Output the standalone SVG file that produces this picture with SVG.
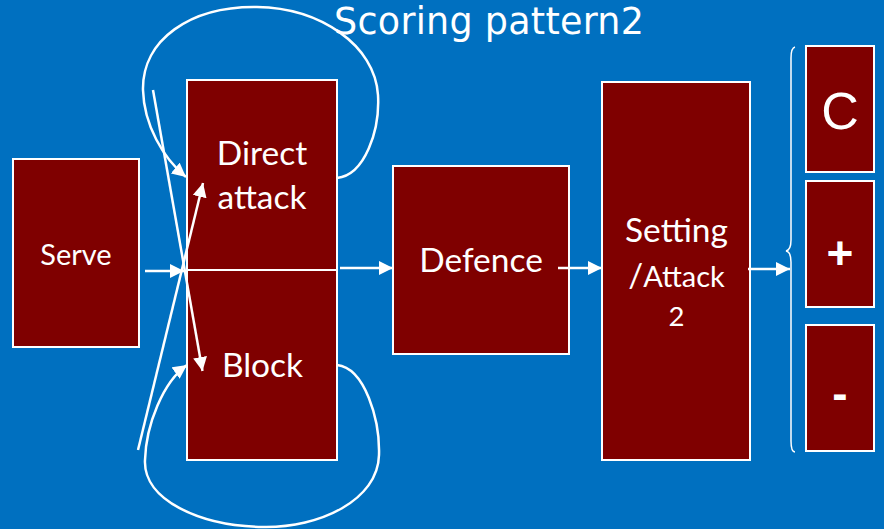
<svg xmlns="http://www.w3.org/2000/svg" width="884" height="529" viewBox="0 0 884 529">
  <defs>
    <marker id="ah" markerUnits="userSpaceOnUse" markerWidth="15" markerHeight="14" refX="14" refY="7" orient="auto">
      <path d="M0,0 L14,7 L0,14 z" fill="#ffffff"/>
    </marker>
  </defs>
  <style>
    .box { fill: #7f0000; stroke: #ffffff; stroke-width: 2; }
    .lbl { fill: #ffffff; font-family: Lato, "Open Sans", sans-serif; text-anchor: middle; }
    .sym { fill: #ffffff; font-family: "Liberation Sans", Arial, sans-serif; text-anchor: middle; }
    .con { fill: none; stroke: #ffffff; stroke-width: 2.5; }
    .arr { marker-end: url(#ah); }
  </style>
  <rect x="0" y="0" width="884" height="529" fill="#0070c0"/>

  <text id="title" x="489" y="34" fill="#ffffff" font-family="'DejaVu Sans', Verdana, sans-serif" font-size="36.5" text-anchor="middle" textLength="310" lengthAdjust="spacing">Scoring pattern2</text>

  <g id="serve">
    <rect class="box" x="13" y="159" width="126" height="188"/>
    <text class="lbl" x="76" y="265" font-size="29">Serve</text>
  </g>

  <g id="direct-attack">
    <rect class="box" x="187" y="80" width="150" height="190"/>
    <text class="lbl" x="262" y="165" font-size="33.5">Direct</text>
    <text class="lbl" x="262" y="209" font-size="33.5">attack</text>
  </g>

  <g id="block">
    <rect class="box" x="187" y="270" width="150" height="190"/>
    <text class="lbl" x="262.5" y="377" font-size="33.5">Block</text>
  </g>

  <g id="defence">
    <rect class="box" x="393" y="166" width="176" height="188"/>
    <text class="lbl" x="481" y="272" font-size="33.5">Defence</text>
  </g>

  <g id="setting-attack2">
    <rect class="box" x="602" y="82" width="148" height="378"/>
    <text class="lbl" x="676.5" y="242" font-size="33.5">Setting</text>
    <text class="lbl" x="676.5" y="287"><tspan font-size="33">/</tspan><tspan font-size="29">Attack</tspan></text>
    <text class="lbl" x="676.5" y="326" font-size="27.5">2</text>
  </g>

  <g id="outcome-c">
    <rect class="box" x="806" y="46" width="68" height="126"/>
    <text class="sym" x="840" y="129" font-size="52">C</text>
  </g>

  <g id="outcome-plus">
    <rect class="box" x="806" y="181" width="68" height="126"/>
    <text class="sym" x="840" y="268.5" font-size="46" font-weight="bold">+</text>
  </g>

  <g id="outcome-minus">
    <rect class="box" x="806" y="325" width="68" height="126"/>
    <text class="sym" x="840" y="409" font-size="46" font-weight="bold">-</text>
  </g>

  <g id="connectors">
    <path class="con arr" d="M145,271 L184,271"/>
    <path class="con arr" d="M153,90 L202.5,371"/>
    <path class="con arr" d="M138,450 L203,183"/>
    <path class="con arr" d="M337,178 C365,175 380,130 378,95 C375,45 320,8 257,7 C190,6 142,40 143,90 C144,125 163,158 186,177"/>
    <path class="con arr" d="M337,365 C365,368 380,420 379,455 C378,500 320,528 263,527 C200,526 143,500 145,460 C146,425 163,382 187,365"/>
    <path class="con arr" d="M340,268 L393,268"/>
    <path class="con arr" d="M558,268 L602,268"/>
    <path class="con arr" d="M748,269 L790,269"/>
    <path d="M795,47 Q791,48 791,58 L791,240 Q791,250 786,251 Q791,252 791,262 L791,441 Q791,452 795,452" fill="none" stroke="#ffffff" stroke-width="1.5"/>
  </g>
</svg>
